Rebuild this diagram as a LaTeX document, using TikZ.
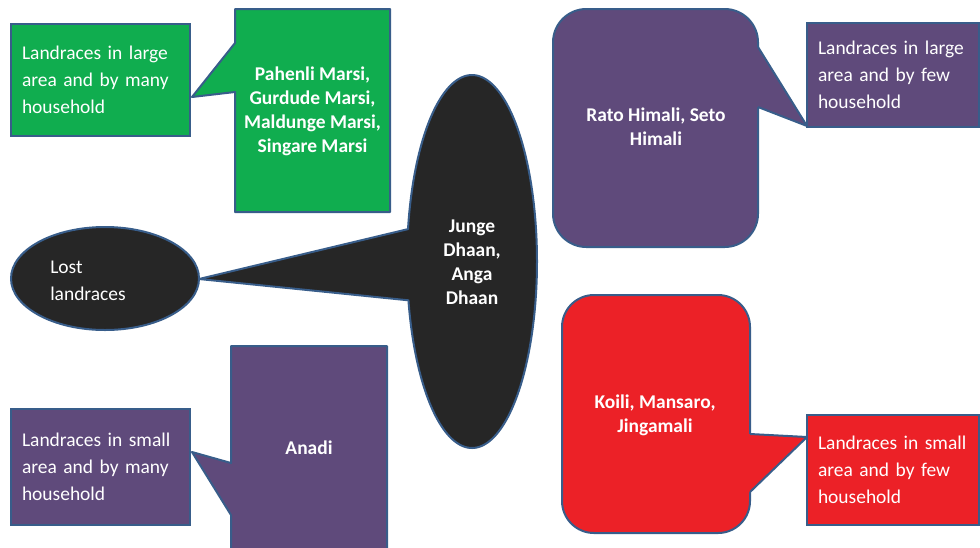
\documentclass[tikz,border=0pt]{standalone}
\usepackage{fontspec}
\setmainfont{Carlito}
\definecolor{bord}{HTML}{385D8A}
\definecolor{cgreen}{HTML}{10AD4F}
\definecolor{cpurple}{HTML}{5F4A7B}
\definecolor{cred}{HTML}{EC2127}
\definecolor{cblack}{HTML}{262626}
\begin{document}
\begin{tikzpicture}[x=0.75pt,y=-0.75pt,
  shapeline/.style={draw=bord, line width=1.5pt, line join=round},
  smallbox/.style={draw=bord, line width=1.5pt, text=white, inner xsep=8.25pt, inner ysep=0pt,
    align=left, font=\fontsize{14.6}{20.25}\selectfont},
  plaintxt/.style={text=white, inner sep=0pt, align=left, font=\fontsize{14.6}{20.25}\selectfont},
  boldtxt/.style={text=white, inner sep=0pt, align=center, font=\fontsize{14.6}{18}\selectfont\bfseries}]
\useasboundingbox (0,0) rectangle (980,547);
\clip (0,0) rectangle (980,547);

% small boxes
\node[smallbox, fill=cgreen, text width=117.75pt, minimum height=84pt] (b1) at (100.5,80)
  {Landraces in large\\area and by many\\household};
\node[smallbox, fill=cpurple, text width=112.5pt, minimum height=78pt] (b2) at (893,75)
  {Landraces in large\\area and by few\\household};
\node[smallbox, fill=cred, text width=112.5pt, minimum height=82.5pt] (b3) at (893,470)
  {Landraces in small\\area and by few\\household};
\node[smallbox, fill=cpurple, text width=117.75pt, minimum height=87pt] (b4) at (100.5,467)
  {Landraces in small\\area and by many\\household};

% pointer tips
\coordinate (t1) at (192,97);
\coordinate (t2) at (807,126);
\coordinate (t3) at (807,437);
\coordinate (t4) at (192,452);
\coordinate (t5) at (199,279);

% green callout
\draw[shapeline, fill=cgreen] (t1) -- (235,92) -- (235,212) -- (390,212) -- (390,9) -- (235,9) -- (235,43) -- cycle;
\node[boldtxt] (n1) at (312.5,111) {Pahenli Marsi,\\Gurdude Marsi,\\Maldunge Marsi,\\Singare Marsi};

% purple top-right callout
\draw[shapeline, fill=cpurple, rounded corners=25pt] (553,9) rectangle (758,247);
\fill[cpurple] (755,47) -- (758,47) -- (t2) -- (758,107) -- (755,107) -- cycle;
\draw[shapeline] (758,47) -- (t2) -- (758,107);
\node[boldtxt] (n2) at (656,127) {Rato Himali, Seto\\Himali};

% red callout
\draw[shapeline, fill=cred, rounded corners=24pt] (562,295) rectangle (750,533);
\fill[cred] (747,434) -- (750,434) -- (t3) -- (750,492) -- (747,492) -- cycle;
\draw[shapeline] (750,434) -- (t3) -- (750,492);
\node[boldtxt] (n3) at (655,415.5) {Koili, Mansaro,\\Jingamali};

% purple bottom-left callout
\draw[shapeline, fill=cpurple] (t4) -- (231,463) -- (231,346) -- (387,346) -- (387,552) -- (231,552) -- (231,515) -- cycle;
\node[boldtxt] (n4) at (309,448) {Anadi};

% lost landraces ellipse
\draw[shapeline, fill=cblack] (105,278.5) ellipse [x radius=94, y radius=51.5];
\node[plaintxt, anchor=west] (lost) at (50,280.5) {Lost\\landraces};

% big ellipse callout
\draw[shapeline, fill=cblack] (t5) -- (408.4,300.3)
  -- plot[domain=168:-170, samples=200] ({472+65*cos(\x)},{261.5+186.5*sin(\x)}) -- cycle;
\node[boldtxt] (n5) at (472,262) {Junge\\Dhaan,\\Anga\\Dhaan};
\end{tikzpicture}
\end{document}
